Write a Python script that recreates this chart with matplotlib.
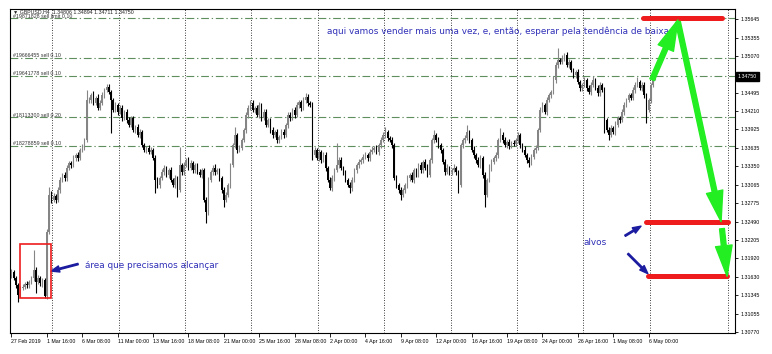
import numpy as np
import matplotlib.pyplot as plt
from matplotlib.patches import Rectangle
from matplotlib.transforms import blended_transform_factory

# GBPUSD H4 closes, 27 Feb 2019 00:00 onwards (one value per bar)
closes = [
    1.3171, 1.3161, 1.3150, 1.3135, 1.3146, 1.3147, 1.3152, 1.3150, 1.3155, 1.3161,
    1.3174, 1.3155, 1.3161, 1.3153, 1.3158, 1.3133, 1.3233, 1.3291, 1.3283, 1.3289,
    1.3283, 1.3298, 1.3314, 1.3322, 1.3317, 1.3333, 1.3340, 1.3337, 1.3348, 1.3353,
    1.3348, 1.3361, 1.3365, 1.3376, 1.3438, 1.3438, 1.3446, 1.3434, 1.3442, 1.3426,
    1.3434, 1.3446, 1.3454, 1.3459, 1.3451, 1.3438, 1.3423, 1.3431, 1.3420, 1.3426,
    1.3410, 1.3420, 1.3407, 1.3400, 1.3410, 1.3392, 1.3396, 1.3384, 1.3389, 1.3368,
    1.3361, 1.3364, 1.3358, 1.3361, 1.3348, 1.3314, 1.3306, 1.3317, 1.3326, 1.3333,
    1.3322, 1.3329, 1.3314, 1.3306, 1.3317, 1.3298, 1.3337, 1.3326, 1.3337, 1.3345,
    1.3333, 1.3340, 1.3329, 1.3337, 1.3326, 1.3322, 1.3329, 1.3283, 1.3264, 1.3314,
    1.3326, 1.3333, 1.3326, 1.3329, 1.3317, 1.3298, 1.3283, 1.3291, 1.3306, 1.3337,
    1.3368, 1.3384, 1.3361, 1.3364, 1.3376, 1.3392, 1.3415, 1.3426, 1.3434, 1.3423,
    1.3426, 1.3415, 1.3431, 1.3410, 1.3420, 1.3400, 1.3407, 1.3392, 1.3384, 1.3389,
    1.3376, 1.3381, 1.3389, 1.3384, 1.3400, 1.3415, 1.3410, 1.3423, 1.3415, 1.3431,
    1.3435, 1.3426, 1.3438, 1.3443, 1.3434, 1.3431, 1.3353, 1.3361, 1.3348, 1.3358,
    1.3345, 1.3353, 1.3333, 1.3314, 1.3301, 1.3317, 1.3329, 1.3337, 1.3345, 1.3333,
    1.3326, 1.3314, 1.3306, 1.3301, 1.3314, 1.3329, 1.3337, 1.3342, 1.3345, 1.3350,
    1.3353, 1.3348, 1.3358, 1.3361, 1.3364, 1.3358, 1.3368, 1.3376, 1.3384, 1.3389,
    1.3379, 1.3376, 1.3368, 1.3317, 1.3306, 1.3298, 1.3291, 1.3298, 1.3306, 1.3317,
    1.3322, 1.3314, 1.3329, 1.3322, 1.3337, 1.3329, 1.3342, 1.3333, 1.3322, 1.3345,
    1.3376, 1.3384, 1.3376, 1.3368, 1.3361, 1.3342, 1.3326, 1.3333, 1.3326, 1.3329,
    1.3333, 1.3326, 1.3306, 1.3368, 1.3376, 1.3379, 1.3389, 1.3376, 1.3361, 1.3353,
    1.3345, 1.3337, 1.3348, 1.3322, 1.3291, 1.3314, 1.3333, 1.3342, 1.3348, 1.3353,
    1.3376, 1.3384, 1.3376, 1.3368, 1.3373, 1.3367, 1.3371, 1.3370, 1.3376, 1.3384,
    1.3368, 1.3361, 1.3353, 1.3345, 1.3340, 1.3350, 1.3361, 1.3364, 1.3392, 1.3423,
    1.3431, 1.3420, 1.3438, 1.3446, 1.3451, 1.3470, 1.3493, 1.3501, 1.3498, 1.3504,
    1.3509, 1.3493, 1.3498, 1.3485, 1.3477, 1.3482, 1.3466, 1.3457, 1.3462, 1.3470,
    1.3457, 1.3451, 1.3462, 1.3470, 1.3457, 1.3449, 1.3462, 1.3454, 1.3407, 1.3392,
    1.3384, 1.3395, 1.3389, 1.3400, 1.3410, 1.3407, 1.3420, 1.3431, 1.3438, 1.3446,
    1.3442, 1.3454, 1.3462, 1.3466, 1.3457, 1.3462, 1.3446, 1.3423, 1.3438, 1.3462,
    1.3473, 1.3475,
]
first_open = 1.3166

# upper / lower shadow of each bar, in pips beyond the body
wick_up = [
    4, 3, 3, 4, 3, 5, 3, 4, 3, 4, 31, 4, 5, 3, 4, 3, 4, 12, 5, 4,
    3, 5, 4, 3, 5, 4, 3, 4, 5, 3, 4, 3, 5, 4, 16, 5, 4, 6, 3, 5,
    4, 5, 3, 5, 4, 3, 4, 5, 3, 4, 5, 3, 4, 5, 3, 4, 3, 5, 4, 3,
    4, 3, 5, 4, 3, 5, 4, 3, 5, 4, 3, 4, 5, 3, 4, 3, 28, 4, 5, 3,
    4, 5, 3, 4, 3, 5, 4, 3, 4, 5, 3, 4, 5, 3, 4, 3, 5, 4, 3, 4,
    4, 12, 3, 5, 4, 3, 4, 5, 5, 4, 3, 5, 4, 3, 5, 4, 3, 4, 5, 3,
    4, 3, 5, 4, 3, 4, 5, 3, 4, 5, 3, 4, 5, 6, 4, 3, 5, 4, 3, 4,
    3, 5, 4, 3, 4, 5, 3, 34, 4, 5, 3, 4, 3, 5, 4, 3, 4, 5, 3, 4,
    5, 3, 4, 5, 3, 4, 3, 5, 4, 8, 3, 4, 5, 3, 4, 3, 5, 4, 3, 4,
    3, 5, 4, 3, 4, 5, 3, 4, 5, 3, 4, 8, 3, 5, 4, 3, 4, 5, 3, 4,
    5, 3, 4, 3, 4, 5, 11, 3, 4, 5, 3, 4, 5, 3, 4, 3, 5, 4, 3, 4,
    3, 11, 4, 5, 3, 4, 3, 5, 4, 5, 3, 4, 5, 3, 4, 5, 3, 4, 3, 5,
    4, 3, 5, 4, 3, 5, 4, 19, 3, 4, 3, 4, 5, 3, 4, 3, 5, 4, 3, 4,
    3, 4, 5, 5, 3, 4, 5, 3, 4, 3, 5, 4, 3, 5, 4, 3, 4, 5, 3, 4,
    3, 5, 4, 8, 3, 4, 5, 3, 4, 3, 4, 3,
]
wick_dn = [
    4, 3, 5, 11, 3, 4, 3, 5, 4, 3, 4, 17, 3, 4, 5, 3, 4, 3, 5, 4,
    5, 3, 4, 3, 5, 4, 3, 4, 3, 5, 4, 3, 4, 5, 3, 4, 5, 3, 4, 3,
    3, 4, 5, 3, 4, 51, 3, 4, 5, 3, 4, 3, 5, 4, 3, 4, 5, 3, 4, 3,
    4, 5, 3, 4, 3, 20, 4, 5, 3, 4, 3, 5, 4, 3, 4, 11, 3, 4, 5, 3,
    4, 3, 5, 4, 3, 4, 5, 3, 17, 4, 3, 5, 4, 3, 4, 5, 11, 4, 3, 5,
    3, 4, 5, 3, 4, 3, 5, 4, 3, 4, 5, 3, 4, 5, 3, 4, 3, 5, 4, 3,
    4, 5, 3, 4, 3, 5, 4, 3, 4, 3, 5, 4, 3, 4, 5, 3, 8, 4, 3, 5,
    4, 3, 5, 4, 3, 4, 5, 3, 4, 3, 5, 4, 3, 8, 4, 3, 5, 4, 3, 4,
    3, 4, 5, 3, 4, 3, 5, 4, 3, 4, 5, 3, 4, 3, 4, 5, 8, 3, 4, 5,
    4, 3, 5, 4, 3, 4, 5, 3, 4, 3, 5, 4, 3, 4, 5, 3, 4, 3, 5, 4,
    3, 4, 12, 3, 4, 5, 3, 4, 3, 5, 4, 3, 4, 5, 19, 3, 4, 5, 3, 4,
    5, 3, 4, 3, 4, 5, 3, 4, 3, 5, 4, 3, 4, 5, 6, 3, 4, 5, 3, 4,
    3, 4, 5, 3, 4, 3, 5, 4, 3, 4, 5, 3, 4, 3, 4, 5, 3, 4, 5, 3,
    4, 3, 5, 4, 3, 4, 5, 3, 20, 4, 8, 3, 4, 5, 3, 4, 3, 5, 4, 3,
    4, 3, 5, 4, 3, 4, 5, 20, 3, 4, 3, 4,
]
pip = 0.0001

date_labels = ['27 Feb 2019', '1 Mar 16:00', '6 Mar 08:00', '11 Mar 00:00',
               '13 Mar 16:00', '18 Mar 08:00', '21 Mar 00:00', '25 Mar 16:00',
               '28 Mar 08:00', '2 Apr 00:00', '4 Apr 16:00', '9 Apr 08:00',
               '12 Apr 00:00', '16 Apr 16:00', '19 Apr 08:00', '24 Apr 00:00',
               '26 Apr 16:00', '1 May 08:00', '6 May 00:00']
bars_per_label = 16
grid_bars = [18.5, 48.5, 78.5, 108.5, 138.5, 168.5, 198.5, 228.5, 258.5,
             288.5, 324]

price_ticks = [1.35645, 1.35355, 1.35070, 1.34495, 1.34210, 1.33925,
               1.33635, 1.33350, 1.33065, 1.32775, 1.32490, 1.32205,
               1.31920, 1.31630, 1.31345, 1.31055, 1.30770]
last_price = 1.34750

order_levels = [1.3566, 1.3504, 1.3476, 1.3412, 1.3367]
order_names = ['#19871828 sell limit 0.10', '#19666455 sell 0.10',
               '#19641778 sell 0.10', '#18113300 sell 0.20',
               '#18278859 sell 0.10']

sell_level = 1.3566
targets = [1.3249, 1.3165]

# ---------------------------------------------------------------
c = np.array(closes)
o = np.r_[first_open, c[:-1]]
hi = np.maximum(o, c) + np.array(wick_up) * pip
lo = np.minimum(o, c) - np.array(wick_dn) * pip
x = np.arange(len(c))
up = c >= o

small = dict(family=['Liberation Sans', 'DejaVu Sans'], fontsize=3.8)
blue_txt = '#3030b8'
blue_arr = '#1c1ca0'
green = '#22ee22'
red = '#ee1c1c'

fig = plt.figure(figsize=(7.72, 3.54), dpi=100)
ax = fig.add_axes([0.0136, 0.0593, 0.9385, 0.9153])

for g in grid_bars:
    ax.axvline(g, color='k', lw=0.6, ls=(0, (1, 2)), zorder=0)

for lev, name in zip(order_levels, order_names):
    ax.axhline(lev, color='#5f8f5f', lw=0.8, ls=(0, (7, 2.5, 1.2, 2.5)),
               zorder=1)
    ax.annotate(name, xy=(0.004, lev), color='#333333',
                xycoords=blended_transform_factory(ax.transAxes, ax.transData),
                xytext=(0, 1.4), textcoords='offset points', va='center',
                **small)

colors = np.where(up, '#858585', '#000000')
ax.vlines(x, lo, hi, colors=colors, lw=0.8, zorder=2)
body = np.maximum(np.abs(c - o), 0.00004)
ax.bar(x, body, bottom=np.minimum(o, c), width=0.7, color=colors,
       linewidth=0, zorder=3)

ax.set_xlim(-0.45, 327.1)
ax.set_ylim(1.30756, 1.35801)

ax.set_xticks(np.arange(len(date_labels)) * bars_per_label)
ax.set_xticklabels(date_labels, ha='left', **small)
ax.tick_params(axis='x', length=3, width=0.6, pad=1.5)

ax.yaxis.tick_right()
ax.set_yticks(price_ticks)
ax.set_yticklabels(['%.5f' % p for p in price_ticks], **small)
ax.tick_params(axis='y', length=2, width=0.6, pad=2)
for s in ax.spines.values():
    s.set_linewidth(0.8)

ax.text(1.004, last_price, '%.5f' % last_price, color='white',
        transform=blended_transform_factory(ax.transAxes, ax.transData),
        va='center', ha='left', zorder=10,
        bbox=dict(boxstyle='square,pad=0.3', fc='black', ec='black'),
        **small)

ax.text(0.004, 0.99, '\u25bc GBPUSD,H4  1.34806 1.34894 1.34711 1.34750',
        transform=ax.transAxes, va='center', color='#222222', **small)

# area that price has to reach
ax.add_patch(Rectangle((3.8, 1.3130), 14.1, 0.0084, fill=False,
                       ec=red, lw=1.2, zorder=6))
thin_blue = 'simple,head_length=0.6,head_width=0.45,tail_width=0.1'
ax.annotate('', xy=(17.9, 1.3172), xytext=(30.1, 1.3183),
            arrowprops=dict(arrowstyle=thin_blue, color=blue_arr,
                            mutation_scale=10, shrinkA=0, shrinkB=0))
ax.text(33.2, 1.3180, 'área que precisamos alcançar', color=blue_txt,
        fontsize=6.4, va='center', ha='left')

ax.text(142.6, 1.3546, 'aqui vamos vender mais uma vez, e, então, esperar '
        'pela tendência de baixa', color=blue_txt, fontsize=6.4,
        va='center', ha='left')

# sell level and targets
ax.plot([285.5, 321.2], [sell_level] * 2, color=red, lw=3.6,
        solid_capstyle='round', zorder=7)
ax.plot([286.8, 323.9], [targets[0]] * 2, color=red, lw=3.6,
        solid_capstyle='round', zorder=7)
ax.plot([287.8, 323.5], [targets[1]] * 2, color=red, lw=3.6,
        solid_capstyle='round', zorder=7)

ax.text(258.8, 1.3217, 'alvos', color=blue_txt, fontsize=6.4,
        va='center', ha='left')
for tail, tip in [((277.4, 1.3227), (284.6, 1.3242)),
                  ((278.7, 1.3199), (287.7, 1.3168))]:
    ax.annotate('', xy=tip, xytext=tail,
                arrowprops=dict(arrowstyle=thin_blue, color=blue_arr,
                                mutation_scale=10, shrinkA=0, shrinkB=0))

green_style = 'simple,head_length=2.2,head_width=1.2,tail_width=0.35'
for tail, tip in [((289.6, 1.3470), (301.3, 1.3563)),
                  ((301.3, 1.3560), (320.8, 1.3249)),
                  ((321.2, 1.3238), (323.5, 1.3164))]:
    ax.annotate('', xy=tip, xytext=tail,
                arrowprops=dict(arrowstyle=green_style, color=green,
                                mutation_scale=10, shrinkA=0, shrinkB=0),
                zorder=8)

fig.savefig('out.png', dpi=100)
